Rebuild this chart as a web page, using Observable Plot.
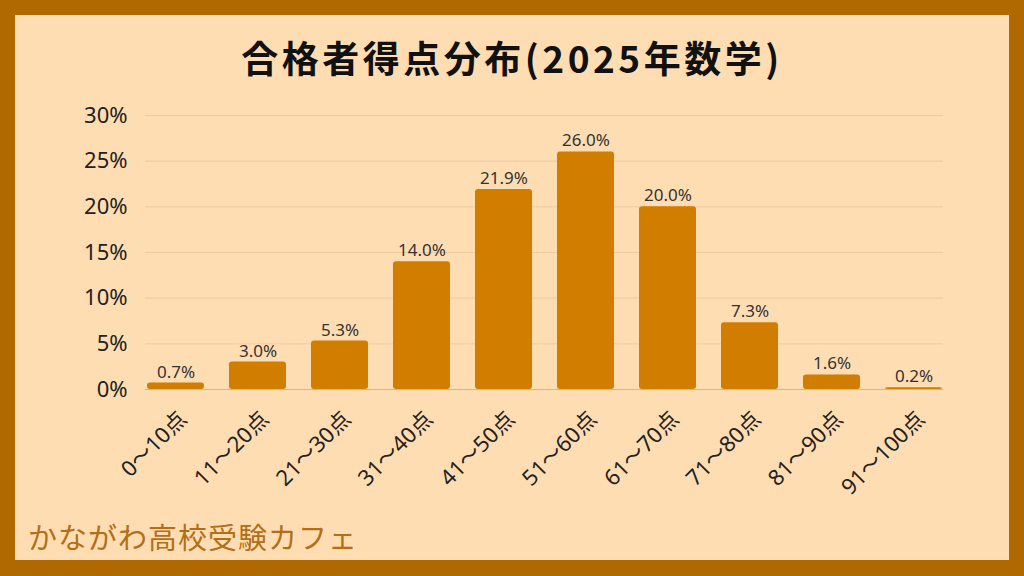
<!DOCTYPE html>
<html><head><meta charset="utf-8">
<script src="https://cdn.jsdelivr.net/npm/d3@7"></script>
<script src="https://cdn.jsdelivr.net/npm/@observablehq/plot@0.6"></script>
<style>
html,body{margin:0;padding:0;}
#frame{position:relative;width:1024px;height:576px;background:#B06800;overflow:hidden;font-family:"Noto Sans","Noto Sans CJK JP",sans-serif;}
#inner{position:absolute;left:15px;top:15px;right:15px;bottom:16px;background:#FFDDB3;}
#title{position:absolute;left:0;top:35px;width:1024px;text-align:center;font-family:"Noto Sans CJK JP",sans-serif;font-size:37px;font-weight:700;letter-spacing:3.5px;line-height:44px;color:#111;}
#chart{position:absolute;left:0;top:0;}
#footer{position:absolute;left:28px;top:516px;font-family:"Noto Sans CJK JP",sans-serif;font-size:29px;font-weight:400;letter-spacing:1px;color:#B26F17;line-height:40px;white-space:nowrap;}
</style></head>
<body><div id="frame"><div id="inner"></div><div id="title">合格者得点分布(2025年数学)</div><div id="chart"></div><div id="footer">かながわ高校受験カフェ</div></div>
<script>
const categories = ["0〜10点","11〜20点","21〜30点","31〜40点","41〜50点","51〜60点","61〜70点","71〜80点","81〜90点","91〜100点"];
const values = [0.7, 3.0, 5.3, 14.0, 21.9, 26.0, 20.0, 7.3, 1.6, 0.2];
const yTicks = [0, 5, 10, 15, 20, 25, 30];
const data = categories.map((c, i) => ({c, v: values[i]}));
const font = '"Noto Sans","Noto Sans CJK JP",sans-serif';
const chart = Plot.plot({
  width: 1024, height: 576,
  marginLeft: 145, marginRight: 81, marginTop: 115, marginBottom: 187,
  style: {background: "transparent", fontFamily: font, overflow: "visible"},
  x: {domain: categories, paddingInner: 0.31, paddingOuter: 0, axis: null},
  y: {domain: [0, 30], axis: null},
  marks: [
    Plot.gridY(yTicks, {stroke: "#EBCBA2", strokeOpacity: 1, strokeWidth: 1}),
    Plot.ruleY([0], {stroke: "#D9B585", strokeWidth: 1.2}),
    Plot.barY(data, {x: "c", y: "v", fill: "#D17D00", rx: 3}),
    Plot.axisY(yTicks, {label: null, tickSize: 0, tickPadding: 18, tickFormat: d => d + "%", fontSize: 22, color: "#222"}),
    Plot.text(data, {x: "c", y: "v", text: d => d.v.toFixed(1) + "%", dy: -11, lineAnchor: "middle", fontSize: 17, fill: "#333"}),
    Plot.text(data, {x: "c", text: "c", frameAnchor: "bottom", rotate: -45, textAnchor: "end", lineAnchor: "middle", dx: 7, dy: 26, fontSize: 22, fill: "#222"})
  ]
});
document.getElementById("chart").appendChild(chart);
</script>
</body></html>
